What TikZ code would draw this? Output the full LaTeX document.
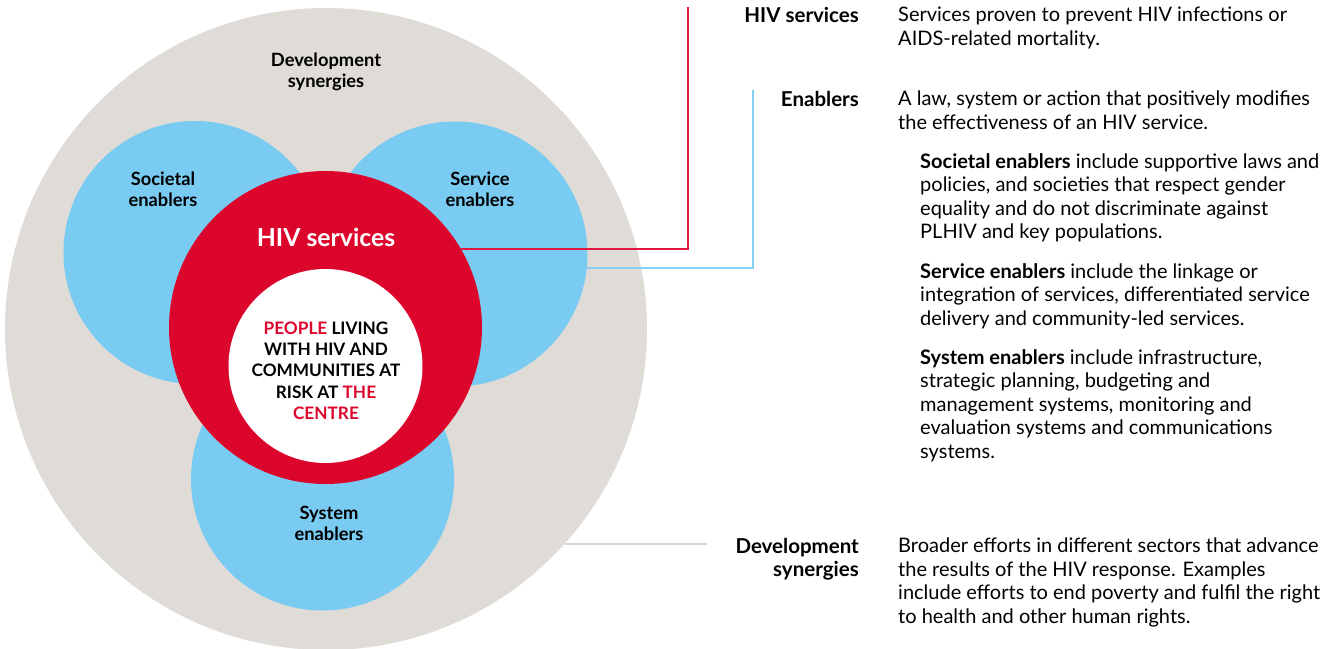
\documentclass[tikz,border=0pt]{standalone}
\usepackage{fontspec}
\setmainfont{Lato}

\definecolor{beige}{HTML}{DFDBD7}
\definecolor{skyblue}{HTML}{7ACBF2}
\definecolor{hivred}{HTML}{DC062D}
\definecolor{redline}{HTML}{E2173F}
\definecolor{blueline}{HTML}{86CFF2}
\definecolor{greyline}{HTML}{D8D4D0}

\tikzset{
  ring/.style={circle,inner sep=0pt,outer sep=0pt,minimum size=#1},
  circlabel/.style={align=center,inner sep=0pt,font=\bfseries\fontsize{18.3}{21}\selectfont},
  term/.style={anchor=north east,align=right,inner sep=0pt,font=\bfseries\fontsize{20.5}{23.5}\selectfont},
  defn/.style={anchor=north west,align=left,inner sep=0pt,font=\fontsize{20}{23.5}\selectfont},
  leader/.style={line width=1.6pt},
}

\begin{document}
\begin{tikzpicture}[x=1pt,y=-1pt]
\useasboundingbox (0,0) rectangle (1330,648);

% circles
\node[ring=642pt,fill=beige] (dev) at (326,329) {};
\node[ring=263pt,fill=skyblue] (societal) at (195,252.5) {};
\node[ring=265pt,fill=skyblue] (service) at (455,254) {};
\node[ring=263pt,fill=skyblue] (system) at (322.5,479) {};
\node[ring=313pt,fill=hivred] (hiv) at (325.5,327.5) {};
\node[ring=194pt,fill=white] (people) at (325.5,366) {};

% labels in the circles
\node[circlabel] (devlbl) at (326,72) {Development\\synergies};
\node[circlabel] (soclbl) at (163,189) {Societal\\enablers};
\node[circlabel] (serlbl) at (480,189) {Service\\enablers};
\node[circlabel] (syslbl) at (329,523) {System\\enablers};
\node[circlabel,text=white,font=\bfseries\fontsize{24.8}{28}\selectfont] (hivlbl) at (326,237) {HIV services};
\node[circlabel,font=\bfseries\fontsize{17.2}{21.3}\selectfont] (centre) at (326,370.5)
  {\textcolor{hivred}{PEOPLE} LIVING\\WITH HIV AND\\COMMUNITIES AT\\RISK AT \textcolor{hivred}{THE}\\\textcolor{hivred}{CENTRE}};

% leader lines
\coordinate (hivend) at (688,7);
\coordinate (enabend) at (753,90);
\coordinate (devend) at (707,546);
\draw[leader,redline] (hiv.30.5) -| (hivend);
\draw[leader,blueline] (service.-6) -| (enabend);
\draw[leader,greyline] (dev.-42.5) -- (dev.-42.5 -| devend);

% key
\node[term] (hivterm) at (859,7) {HIV services};
\node[defn] (hivdef) at (898,7) {Services proven to prevent HIV infections or\\AIDS-related mortality.};
\node[term] (enabterm) at (859,91) {Enablers};
\node[defn] (enabdef) at (898,91) {A law, system or action that positively modifies\\the effectiveness of an HIV service.};
\node[defn] (socdef) at (920,153) {\textbf{Societal enablers} include supportive laws and\\policies, and societies that respect gender\\equality and do not discriminate against\\PLHIV and key populations.};
\node[defn] (serdef) at (920,263) {\textbf{Service enablers} include the linkage or\\integration of services, differentiated service\\delivery and community-led services.};
\node[defn] (sysdef) at (920,349) {\textbf{System enablers} include infrastructure,\\strategic planning, budgeting and\\management systems, monitoring and\\evaluation systems and communications\\systems.};
\node[term] (devterm) at (859,538) {Development\\synergies};
\node[defn] (devdef) at (898,538) {Broader efforts in different sectors that advance\\the results of the HIV response. Examples\\include efforts to end poverty and fulfil the right\\to health and other human rights.};
\end{tikzpicture}
\end{document}
